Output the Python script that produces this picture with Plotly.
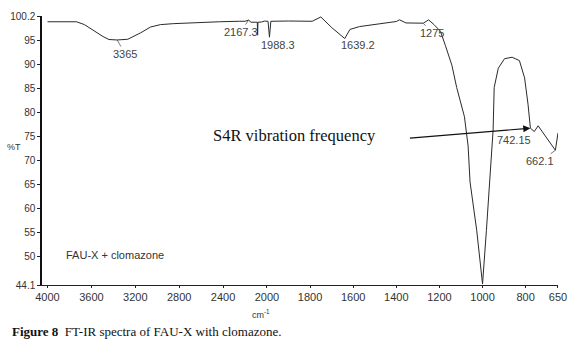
import plotly.graph_objects as go

# ---- data ----
# high-wavenumber section (4000-2000 cm-1, compressed scale)
wn_high = [4000, 3850, 3735, 3663, 3573, 3493, 3440, 3365, 3268, 3150, 3061, 2971,
           2854, 2638, 2432, 2252, 2200, 2167.3, 2145, 2100, 2088, 2085, 2082,
           2050, 2020, 2000]
t_high = [99.0, 99.05, 99.0, 98.4, 97.0, 95.9, 95.3, 95.2, 95.35, 96.7, 97.9, 98.4,
          98.6, 98.85, 99.0, 99.1, 99.1, 99.35, 98.9, 98.9, 98.9, 96.2, 98.9,
          98.95, 99.15, 99.1]

# low-wavenumber section (2000-650 cm-1, expanded scale)
wn_low = [2000, 1995, 1988.3, 1982, 1900, 1790, 1750, 1700, 1639.2, 1615, 1570, 1480,
          1400, 1385, 1355, 1275, 1250, 1225, 1195, 1172, 1142, 1120, 1098, 1084,
          1067, 1058, 1027, 1000, 982, 966, 951, 946, 927, 898, 863, 829, 805, 789,
          778, 760, 742.15, 662.1, 650]
t_low = [99.1, 99.1, 95.8, 99.1, 99.15, 99.1, 100.0, 97.8, 95.5, 97.4, 98.0, 98.6,
         99.05, 99.4, 98.75, 98.7, 99.4, 98.4, 97.0, 94.0, 89.9, 85.3, 81.8, 79.2,
         73.1, 65.6, 55.5, 44.3, 55.5, 65.6, 76.4, 85.3, 89.3, 91.3, 91.6, 90.9, 87.3, 81.8,
         76.8, 76.1, 77.3, 72.2, 75.8]

high_ticks = [4000, 3600, 3200, 2800, 2400, 2000]
low_ticks = [1800, 1600, 1400, 1200, 1000, 800, 650]
y_ticks = [44.1, 50, 55, 60, 65, 70, 75, 80, 85, 90, 95, 100.2]
y_ticktext = ["44.1", "50", "55", "60", "65", "70", "75", "80", "85", "90", "95", "100.2"]

# peak labels: (axis, wavenumber, %T, text, ax, ay, leader)
peak_labels = [
    ("x", 3365, 95.2, "3365", 8, 14, True),
    ("x", 2167.3, 99.35, "2167.3", -8, 12, True),
    ("x2", 1988.3, 95.8, "1988.3", 9, 8, True),
    ("x2", 1639.2, 95.5, "1639.2", 13, 6, True),
    ("x2", 1275, 98.7, "1275", 9, 10, True),
    ("x2", 742.15, 77.3, "742.15", -24, 14, False),
    ("x2", 662.1, 72.2, "662.1", -15, 11, True),
]

W, H = 580, 357
L, R, T, B = 40, 17, 10, 72
split = (268 - L) / (W - L - R)

fig = go.Figure()
line_style = dict(color="#2a2a2a", width=1)
fig.add_trace(go.Scatter(x=wn_high, y=t_high, mode="lines", line=line_style,
                         xaxis="x", yaxis="y", showlegend=False, hoverinfo="skip"))
fig.add_trace(go.Scatter(x=wn_low, y=t_low, mode="lines", line=line_style,
                         xaxis="x2", yaxis="y", showlegend=False, hoverinfo="skip"))

tickfont_x = dict(family="Liberation Sans, Arial", size=11, color="#333333")
tickfont_y = dict(family="Liberation Sans, Arial", size=10, color="#333333")
label_font = dict(family="Liberation Sans, Arial", size=11, color="#444444")

annotations = []
for ax_name, xv, yv, txt, ax, ay, leader in peak_labels:
    if leader:
        annotations.append(dict(x=xv, y=yv, xref=ax_name, yref="y", text=txt,
                                showarrow=True, arrowhead=0, arrowwidth=0.8,
                                arrowcolor="#555555", ax=ax, ay=ay, standoff=0,
                                font=label_font))
    else:
        annotations.append(dict(x=xv, y=yv, xref=ax_name, yref="y", text=txt,
                                showarrow=False, xshift=ax, yshift=-ay,
                                font=label_font))

# S4R arrow (points to the band near 778 cm-1)
annotations.append(dict(x=778, y=76.8, xref="x2", yref="y", text="",
                        showarrow=True, arrowhead=2, arrowsize=1.3, arrowwidth=1.1,
                        arrowcolor="#111111", ax=-122, ay=10, standoff=0))

# free texts placed by pixel (converted to paper fractions below)
free_texts = [
    (296, 132, "S4R vibration frequency", "center",
     dict(family="Liberation Serif, Times New Roman", size=16.5, color="#111111")),
    (114, 254, "FAU-X + clomazone", "center",
     dict(family="Liberation Sans, Arial", size=11, color="#333333")),
    (12, 144, "%T", "center",
     dict(family="Liberation Sans, Arial", size=9, color="#333333")),
    (262, 315, "cm<sup>-1</sup>", "center",
     dict(family="Liberation Sans, Arial", size=9, color="#333333")),
    (8, 333, "<b>Figure 8</b>  FT-IR spectra of FAU-X with clomazone.", "left",
     dict(family="Liberation Serif, Times New Roman", size=13, color="#111111")),
]
for px, py, txt, xa, font in free_texts:
    annotations.append(dict(x=(px - L) / (W - L - R), y=(H - py - B) / (H - T - B),
                            xref="paper", yref="paper", xanchor=xa, yanchor="middle",
                            text=txt, showarrow=False, font=font))

fig.update_layout(
    width=W, height=H,
    margin=dict(l=L, r=R, t=T, b=B),
    paper_bgcolor="white", plot_bgcolor="white",
    xaxis=dict(domain=[0, split], range=[4050, 2000], tickvals=high_ticks,
               showgrid=False, zeroline=False, showline=True, linecolor="#222222",
               linewidth=1, ticks="outside", ticklen=2, tickcolor="#222222",
               tickfont=tickfont_x, anchor="y"),
    xaxis2=dict(domain=[split, 1], range=[2000, 650], tickvals=low_ticks,
                showgrid=False, zeroline=False, showline=True, linecolor="#222222",
                linewidth=1, ticks="outside", ticklen=2, tickcolor="#222222",
                tickfont=tickfont_x, anchor="y"),
    yaxis=dict(range=[44.1, 100.2], tickvals=y_ticks, ticktext=y_ticktext,
               showgrid=False, zeroline=False, showline=True, linecolor="#111111",
               linewidth=1.5, ticks="outside", ticklen=3, tickcolor="#222222",
               tickfont=tickfont_y, anchor="x"),
    annotations=annotations,
)

fig.write_html("out.html", config={"displayModeBar": False},
               post_script="document.body.style.margin='0';")
